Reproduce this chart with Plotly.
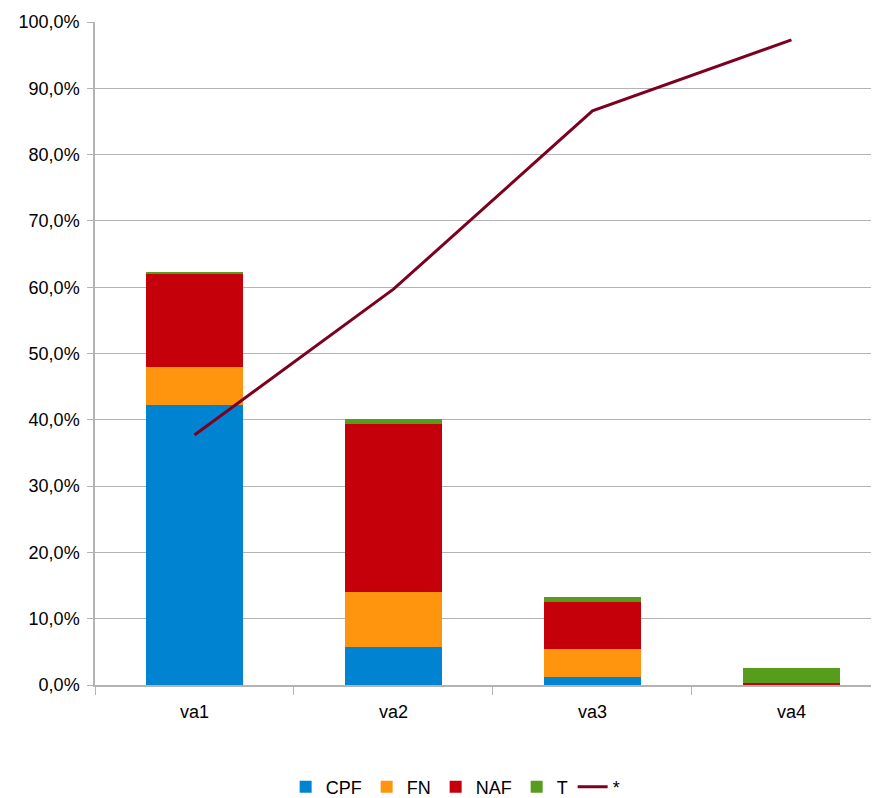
import plotly.graph_objects as go

categories = ["va1", "va2", "va3", "va4"]
cpf = [42.3, 5.8, 1.2, 0.1]
fn = [5.7, 8.2, 4.3, 0.05]
naf = [14.0, 25.4, 7.05, 0.1]
t = [0.15, 0.7, 0.65, 2.3]
line_vals = [37.7, 59.7, 86.6, 97.3]
y_ticks = [0, 10, 20, 30, 40, 50, 60, 70, 80, 90, 100]
y_tick_text = ["0,0%", "10,0%", "20,0%", "30,0%", "40,0%", "50,0%", "60,0%",
               "70,0%", "80,0%", "90,0%", "100,0%"]

colors = {"CPF": "#0084d1", "FN": "#ff950e", "NAF": "#c5000b", "T": "#579d1c"}
font = "Liberation Sans, Arial, sans-serif"

fig = go.Figure()
for name, vals in [("CPF", cpf), ("FN", fn), ("NAF", naf), ("T", t)]:
    fig.add_trace(go.Bar(x=categories, y=vals, name=name, marker_color=colors[name],
                         marker_line_width=0, width=0.49))
fig.add_trace(go.Scatter(x=categories, y=line_vals, name="*", mode="lines",
                         line=dict(color="#7e0021", width=3)))

fig.update_layout(
    barmode="stack",
    width=871, height=790,
    margin=dict(l=87, r=0, t=14, b=113, autoexpand=False),
    paper_bgcolor="white", plot_bgcolor="white",
    font=dict(family=font, size=18, color="#000000"),
    showlegend=True,
    legend=dict(orientation="h", x=0.46, xanchor="center", y=-0.154, yanchor="middle",
                font=dict(size=18), itemwidth=30, tracegroupgap=0,
                traceorder="normal"),
    xaxis=dict(range=[-0.5, 3.44], showline=True, linecolor="#b3b3b3", linewidth=1.5,
               ticks="outside", tickson="boundaries", ticklen=8, tickcolor="#b3b3b3",
               showgrid=False, tickfont=dict(size=18), automargin=False,
               ticklabelstandoff=10),
    yaxis=dict(range=[0, 100], tickvals=y_ticks, ticktext=y_tick_text,
               showline=True, linecolor="#b3b3b3", linewidth=1.5, ticks="outside",
               ticklen=6, tickcolor="#b3b3b3", showgrid=True, gridcolor="#b3b3b3",
               gridwidth=1.2, zeroline=False, tickfont=dict(size=18), automargin=False,
               ticklabelstandoff=4),
)

fig.write_html("out.html")
